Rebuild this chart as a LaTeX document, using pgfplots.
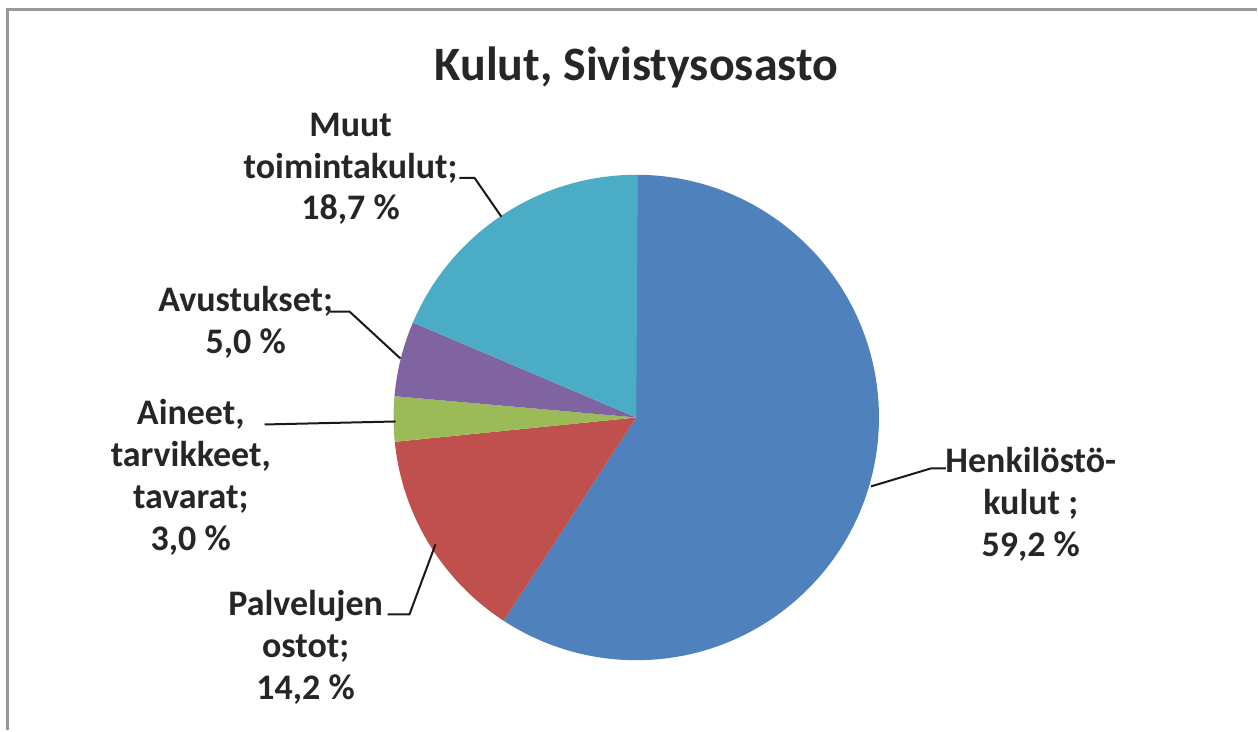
\documentclass[border=0pt]{standalone}
\usepackage{pgfplots}
\pgfplotsset{compat=1.18}
\usepackage{fontspec}
\setmainfont{Carlito}

\definecolor{sBlue}{HTML}{4F81BD}
\definecolor{sRed}{HTML}{C0504D}
\definecolor{sGreen}{HTML}{9BBB59}
\definecolor{sPurple}{HTML}{8064A2}
\definecolor{sTeal}{HTML}{4BACC6}
\definecolor{frame}{HTML}{98989C}

\begin{document}
\begin{tikzpicture}
\begin{axis}[
    x=0.5pt, y=0.5pt,
    xmin=0, xmax=1258, ymin=0, ymax=731,
    scale only axis,
    hide axis,
    clip=false,
]
% frame of the chart area (cut on right and bottom)
\path (axis cs:0,0) rectangle (axis cs:1258,731);
\draw[frame, line width=1.5pt] (axis cs:8,0) -- (axis cs:8,721) -- (axis cs:1258,721);

% pie: shares in percent, clockwise from 12 o'clock
\def\angA{90}
\pgfplotsforeachungrouped \v/\c in {59.2/sBlue, 14.2/sRed, 3.0/sGreen, 5.0/sPurple, 18.7/sTeal}{%
  \pgfmathsetmacro\angB{\angA-3.6*\v}%
  \edef\tmp{\noexpand\fill[\c] (axis cs:637,313) -- ++(\angA:121.5pt)
    arc[start angle=\angA, end angle=\angB, radius=121.5pt] -- cycle;}%
  \tmp
  \let\angA\angB
}

% leader lines
\tikzset{lead/.style={black!90, line width=1pt}}
\draw[lead] (axis cs:872,244) -- (axis cs:932,262) -- (axis cs:947,262);
\draw[lead] (axis cs:436,186) -- (axis cs:410,116) -- (axis cs:388,116);
\draw[lead] (axis cs:396,309) -- (axis cs:265,306);
\draw[lead] (axis cs:401,372) -- (axis cs:350,419) -- (axis cs:330,419);
\draw[lead] (axis cs:502,514) -- (axis cs:475,553) -- (axis cs:460,553);

% labels
\tikzset{lab/.style={align=center, font=\fontsize{18}{21}\selectfont\bfseries, text=black!85, inner sep=0pt}}
\node[font=\fontsize{24}{28}\selectfont\bfseries, text=black!85] at (axis cs:637,663) {Kulut, Sivistysosasto};
\node[lab] at (axis cs:1032,226) {Henkilöstö-\\kulut ;\\59,2 \%};
\node[lab] at (axis cs:306,83) {Palvelujen\\ostot;\\14,2 \%};
\node[lab] at (axis cs:191,253) {Aineet,\\tarvikkeet,\\tavarat;\\3,0 \%};
\node[lab] at (axis cs:246,408) {Avustukset;\\5,0 \%};
\node[lab] at (axis cs:351,562) {Muut\\toimintakulut;\\18,7 \%};
\end{axis}
\end{tikzpicture}
\end{document}
